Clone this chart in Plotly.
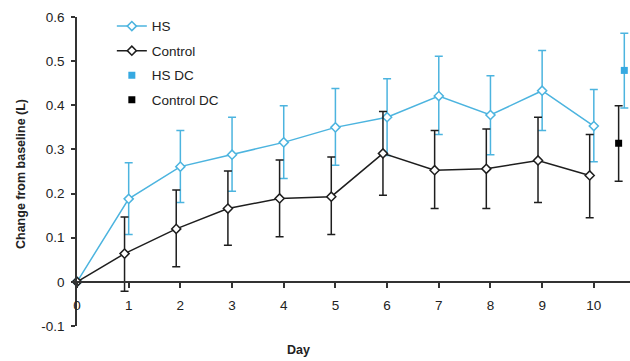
import plotly.graph_objects as go

days = [0, 1, 2, 3, 4, 5, 6, 7, 8, 9, 10]
hs_mean = [0, 0.188, 0.261, 0.288, 0.316, 0.350, 0.373, 0.421, 0.378, 0.433, 0.353]
hs_upper = [0, 0.270, 0.343, 0.373, 0.399, 0.438, 0.460, 0.511, 0.467, 0.524, 0.436]
hs_lower = [0, 0.107, 0.180, 0.205, 0.234, 0.264, 0.286, 0.334, 0.288, 0.343, 0.272]
ctrl_mean = [0, 0.064, 0.120, 0.166, 0.189, 0.193, 0.291, 0.253, 0.256, 0.275, 0.241]
ctrl_upper = [0, 0.147, 0.208, 0.251, 0.276, 0.283, 0.386, 0.343, 0.346, 0.373, 0.334]
ctrl_lower = [0, -0.021, 0.034, 0.083, 0.102, 0.107, 0.196, 0.166, 0.166, 0.180, 0.145]
hs_dc = [0.479]
hs_dc_upper = [0.563]
hs_dc_lower = [0.394]
ctrl_dc = [0.314]
ctrl_dc_upper = [0.399]
ctrl_dc_lower = [0.228]

y_ticks = [-0.1, 0, 0.1, 0.2, 0.3, 0.4, 0.5, 0.6]
y_tick_labels = ["-0.1", "0", "0.1", "0.2", "0.3", "0.4", "0.5", "0.6"]
x_ticks = days
x_tick_labels = [str(d) for d in days]

BLUE = "#4cb4df"
BLACK = "#1e1e1e"
FONT = "Liberation Sans, Arial, sans-serif"

W, H = 630, 361
ML, MT, MR, MB = 77, 17, 0, 35


def err(mean, upper, lower, skip_first=False):
    plus = [u - m for m, u in zip(mean, upper)]
    minus = [m - l for m, l in zip(mean, lower)]
    if skip_first:
        plus[0] = None
        minus[0] = None
    return plus, minus


hs_p, hs_m = err(hs_mean, hs_upper, hs_lower, True)
c_p, c_m = err(ctrl_mean, ctrl_upper, ctrl_lower, True)
hsdc_p, hsdc_m = err(hs_dc, hs_dc_upper, hs_dc_lower)
cdc_p, cdc_m = err(ctrl_dc, ctrl_dc_upper, ctrl_dc_lower)

ctrl_x = [d - 0.08 if d > 0 else d for d in days]

fig = go.Figure()
fig.add_trace(go.Scatter(
    x=days, y=hs_mean, name="HS", mode="lines+markers", legendgroup="a",
    line=dict(color=BLUE, width=1.5),
    marker=dict(symbol="diamond", size=7, color="white", line=dict(color=BLUE, width=1.5)),
    error_y=dict(type="data", array=hs_p, arrayminus=hs_m, color=BLUE, thickness=1.5, width=4),
    cliponaxis=False,
))
fig.add_trace(go.Scatter(
    x=ctrl_x, y=ctrl_mean, name="Control", mode="lines+markers", legendgroup="b",
    line=dict(color=BLACK, width=1.5),
    marker=dict(symbol="diamond", size=7, color="white", line=dict(color=BLACK, width=1.5)),
    error_y=dict(type="data", array=c_p, arrayminus=c_m, color=BLACK, thickness=1.5, width=4),
    cliponaxis=False,
))
fig.add_trace(go.Scatter(
    x=[10.59], y=hs_dc, name="HS DC", mode="markers", legendgroup="c",
    marker=dict(symbol="square", size=7, color="#36a9e1"),
    error_y=dict(type="data", array=hsdc_p, arrayminus=hsdc_m, color=BLUE, thickness=1.5, width=4),
    cliponaxis=False,
))
fig.add_trace(go.Scatter(
    x=[10.48], y=ctrl_dc, name="Control DC", mode="markers", legendgroup="d",
    marker=dict(symbol="square", size=7, color="black"),
    error_y=dict(type="data", array=cdc_p, arrayminus=cdc_m, color=BLACK, thickness=1.5, width=4),
    cliponaxis=False,
))

fig.update_layout(
    width=W, height=H,
    margin=dict(l=ML, r=MR, t=MT, b=MB, autoexpand=False),
    paper_bgcolor="white", plot_bgcolor="white",
    font=dict(family=FONT, size=13.5, color="#222"),
    showlegend=True,
    legend=dict(x=0.063, y=1.02, xanchor="left", yanchor="top", bgcolor="rgba(0,0,0,0)",
                font=dict(size=13.5, color="#222"), tracegroupgap=4, itemwidth=30),
    xaxis=dict(
        range=[0, 10.7], anchor="free", position=1 / 7, automargin=False,
        tickvals=x_ticks, ticktext=x_tick_labels,
        showline=True, linecolor="#333", linewidth=1.5,
        ticks="outside", ticklen=5, tickwidth=1.5, tickcolor="#333",
        ticklabelstandoff=6,
        showgrid=False, zeroline=False,
    ),
    yaxis=dict(
        range=[-0.1, 0.6], domain=[0, 1], automargin=False,
        tickvals=y_ticks, ticktext=y_tick_labels,
        showline=True, linecolor="#333", linewidth=1.5,
        ticks="outside", ticklen=4, tickwidth=1.5, tickcolor="#333",
        ticklabelstandoff=4,
        showgrid=False, zeroline=False,
    ),
    annotations=[
        dict(text="<b>Day</b>", x=298, y=350, xref="paper", yref="paper", showarrow=False,
             xanchor="center", yanchor="middle", font=dict(size=12.5, color="#222")),
        dict(text="<b>Change from baseline (L)</b>", x=21, y=174, xref="paper", yref="paper",
             showarrow=False, textangle=-90, xanchor="center", yanchor="middle",
             font=dict(size=12.5, color="#222")),
    ],
)

# convert screen pixel positions of annotations to paper coords
pw = W - ML - MR
ph = H - MT - MB
for a in fig.layout.annotations:
    px, py = a.x, a.y
    a.x = (px - ML) / pw
    a.y = (H - MB - py) / ph

fig.write_html(
    "out.html",
    config={"displayModeBar": False},
    post_script="document.body.style.margin='0';document.body.style.overflow='hidden';",
)
